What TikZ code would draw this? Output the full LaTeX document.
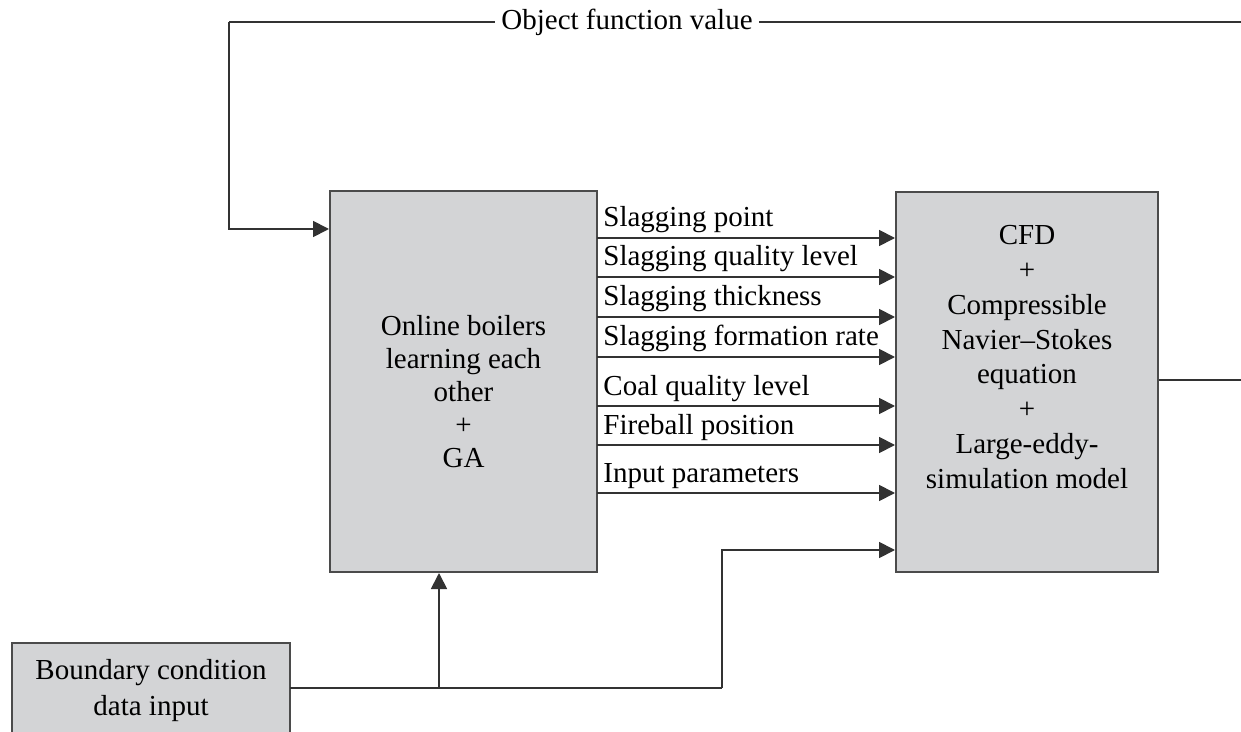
\documentclass[tikz,border=0pt]{standalone}
\usepackage{fontspec}
\setmainfont{Liberation Serif}
\usetikzlibrary{arrows.meta}
\definecolor{boxfill}{RGB}{211,212,214}
\definecolor{edgecol}{RGB}{75,75,75}
\definecolor{linecol}{RGB}{50,50,50}
\begin{document}
\begin{tikzpicture}[x=0.5pt,y=-0.5pt,
  box/.style={draw=edgecol, line width=1pt, fill=boxfill, inner sep=0pt},
  boxtext/.style={align=center, inner sep=0pt, font=\fontsize{14.5}{16.5}\selectfont},
  conn/.style={draw=linecol, line width=0.9pt},
  arr/.style={conn, -{Triangle[length=8pt,width=8pt]}},
  lab/.style={anchor=base west, inner sep=0pt, font=\fontsize{14.5}{16.5}\selectfont}]
\useasboundingbox (0,0) rectangle (1241,732);

% boxes
\node[box, minimum width=133.5pt, minimum height=190.5pt] (L) at (463.5,381.5) {};
\node[box, minimum width=131pt, minimum height=190pt] (R) at (1027,382) {};
\node[box, minimum width=139pt, minimum height=48.5pt] (B) at (151,691.5) {};

\node[boxtext] (Lt) at (463.5,392) {Online boilers\\learning each\\other\\+\\GA};
\node[boxtext, font=\fontsize{14.5}{17.4}\selectfont] (Rt) at (1027,357) {CFD\\+\\Compressible\\Navier--Stokes\\equation\\+\\Large-eddy-\\simulation model};
\node[boxtext, font=\fontsize{14.5}{18}\selectfont] (Bt) at (151,691) {Boundary condition\\data input};

% parallel arrows
\foreach \y/\t [count=\i] in {238/Slagging point, 277/Slagging quality level, 317/Slagging thickness, 357/Slagging formation rate, 406/Coal quality level, 445/Fireball position, 493/Input parameters}{
  \coordinate (a\i) at (597,\y);
  \draw[arr] (a\i) -- (R.west |- a\i);
  \node[lab] (lab\i) at (603,\y-11) {\t};
}

% feedback loop at top
\coordinate (tl) at (229,22);
\coordinate (tr) at (1241,22);
\coordinate (fl) at (229,229);
\draw[conn] (tr) -- (tl);
\draw[arr] (tl) -- (fl) -- (L.west |- fl);
\node[fill=white, inner xsep=3pt, inner ysep=2pt, font=\fontsize{14.5}{16.5}\selectfont] (ofv) at (627,22) {Object function value};

% output of CFD
\coordinate (or) at (1241,380);
\draw[conn] (R.east |- or) -- (or);

% boundary input
\coordinate (b0) at (290,688);
\coordinate (j1) at (439,688);
\coordinate (k1) at (722,688);
\coordinate (k2) at (722,550);
\draw[conn] (b0) -- (k1);
\draw[arr] (j1) -- (j1 |- L.south);
\draw[arr] (k1) -- (k2) -- (R.west |- k2);
\end{tikzpicture}
\end{document}
